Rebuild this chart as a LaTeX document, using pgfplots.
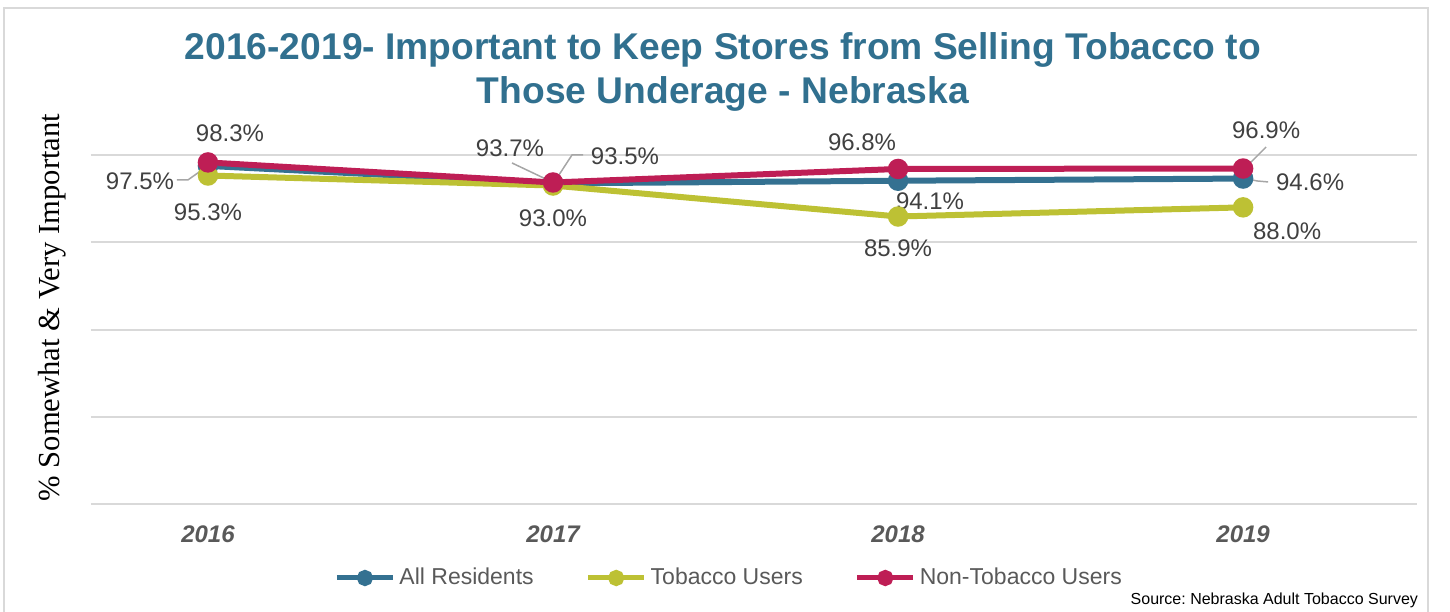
\documentclass[border=0pt]{standalone}
\usepackage{fontspec}
\setmainfont{Liberation Sans}
\newfontfamily\seriffont{Liberation Serif}
\usepackage{pgfplots}
\pgfplotsset{compat=1.18}
\frenchspacing

\definecolor{allres}{HTML}{347191}
\definecolor{tobacco}{HTML}{BDC134}
\definecolor{nontob}{HTML}{BE1E55}
\definecolor{titleblue}{HTML}{31708F}
\definecolor{gridgray}{HTML}{D9D9D9}
\definecolor{labelgray}{HTML}{404040}
\definecolor{leadgray}{HTML}{A6A6A6}
\definecolor{ticklab}{HTML}{595959}

\begin{document}
\begin{tikzpicture}
\path[use as bounding box] (-45.5pt,-53.5pt) rectangle (679.5pt,252pt);
% outer chart frame
\draw[gridgray, line width=1.2pt] (-43.5pt,-60pt) -- (-43.5pt,248pt) -- (668.5pt,248pt) -- (668.5pt,-60pt);
% title
\node[align=center, text=titleblue, font=\bfseries\fontsize{18.6}{22}\selectfont]
  at (316pt,216pt) {2016-2019- Important to Keep Stores from Selling Tobacco to\\Those Underage - Nebraska};
\node[anchor=east, font=\fontsize{8}{10}\selectfont] at (667pt,-48pt) {Source: Nebraska Adult Tobacco Survey};

\begin{axis}[
    at={(0pt,0pt)}, anchor=south west,
    scale only axis,
    width=663pt, height=174.5pt,
    xmin=2015.661, xmax=2019.504,
    ymin=20, ymax=100,
    xtick={2016,2017,2018,2019},
    xticklabels={2016,2017,2018,2019},
    ytick={20,40,60,80,100},
    yticklabels={},
    major tick length=0pt,
    axis line style={draw=none},
    ymajorgrids,
    grid style={gridgray, line width=1pt},
    xticklabel style={anchor=center, yshift=-15pt, text=ticklab,
        font=\bfseries\itshape\fontsize{12}{14}\selectfont},
    ylabel={\% Somewhat \& Very Important},
    ylabel style={at={(axis description cs:-0.0294,0.563)}, anchor=center,
        font=\seriffont\fontsize{15.3}{18}\selectfont},
    clip=false,
    legend columns=3,
    legend style={at={(axis description cs:0.482,-0.212)}, anchor=center,
        draw=none, fill=none, text=ticklab,
        font=\fontsize{11.5}{13}\selectfont,
        /tikz/every even column/.append style={column sep=24pt}},
    legend image code/.code={
        \draw[#1, line width=2.5pt, mark size=2.8pt, mark repeat=2, mark phase=2]
        plot coordinates {(0pt,0pt) (14pt,0pt) (28pt,0pt)};},
]
\addplot[allres, line width=3pt, mark=*, mark size=3.6pt, mark options={solid, fill=allres, draw=allres}]
  coordinates {(2016,97.5) (2017,93.5) (2018,94.1) (2019,94.6)};
\addlegendentry{All Residents}
\addplot[tobacco, line width=3pt, mark=*, mark size=3.6pt, mark options={solid, fill=tobacco, draw=tobacco}]
  coordinates {(2016,95.3) (2017,93.0) (2018,85.9) (2019,88.0)};
\addlegendentry{Tobacco Users}
\addplot[nontob, line width=3pt, mark=*, mark size=3.6pt, mark options={solid, fill=nontob, draw=nontob}]
  coordinates {(2016,98.3) (2017,93.7) (2018,96.8) (2019,96.9)};
\addlegendentry{Non-Tobacco Users}

% leader lines
\draw[leadgray, line width=0.75pt]
  ([xshift=-15.5pt,yshift=-7pt]axis cs:2016,97.5) -- ([xshift=-10pt,yshift=-7pt]axis cs:2016,97.5) -- ([xshift=-1.5pt,yshift=-1pt]axis cs:2016,97.5);
\draw[leadgray, line width=0.75pt]
  ([xshift=-20.5pt,yshift=9.75pt]axis cs:2017,93.7) -- ([xshift=-1pt,yshift=0.5pt]axis cs:2017,93.7);
\draw[leadgray, line width=0.75pt]
  ([xshift=1pt,yshift=1.2pt]axis cs:2017,93.5) -- ([xshift=9.5pt,yshift=14.2pt]axis cs:2017,93.5) -- ([xshift=15pt,yshift=14.2pt]axis cs:2017,93.5);
\draw[leadgray, line width=0.75pt]
  ([xshift=11.5pt,yshift=10.75pt]axis cs:2019,96.9) -- ([xshift=1pt,yshift=0.25pt]axis cs:2019,96.9);
\draw[leadgray, line width=0.75pt]
  ([xshift=12.5pt,yshift=-1.7pt]axis cs:2019,94.6) -- ([xshift=7pt,yshift=-1.2pt]axis cs:2019,94.6) -- ([xshift=1pt,yshift=0pt]axis cs:2019,94.6);

% data labels
\begin{scope}[every node/.style={text=labelgray, font=\fontsize{12}{14}\selectfont}]
\node at ([xshift=11pt,yshift=14.5pt]axis cs:2016,98.3) {98.3\%};
\node at ([xshift=-34pt,yshift=-7.5pt]axis cs:2016,97.5) {97.5\%};
\node at ([xshift=0pt,yshift=-18.5pt]axis cs:2016,95.3) {95.3\%};
\node at ([xshift=-21.5pt,yshift=17pt]axis cs:2017,93.7) {93.7\%};
\node at ([xshift=36pt,yshift=13.5pt]axis cs:2017,93.5) {93.5\%};
\node at ([xshift=0pt,yshift=-16.5pt]axis cs:2017,93.0) {93.0\%};
\node at ([xshift=-18pt,yshift=13.5pt]axis cs:2018,96.8) {96.8\%};
\node at ([xshift=16pt,yshift=-10pt]axis cs:2018,94.1) {94.1\%};
\node at ([xshift=0pt,yshift=-16pt]axis cs:2018,85.9) {85.9\%};
\node at ([xshift=11.5pt,yshift=19pt]axis cs:2019,96.9) {96.9\%};
\node at ([xshift=33.5pt,yshift=-2pt]axis cs:2019,94.6) {94.6\%};
\node at ([xshift=22pt,yshift=-12pt]axis cs:2019,88.0) {88.0\%};
\end{scope}
\end{axis}
\end{tikzpicture}
\end{document}
